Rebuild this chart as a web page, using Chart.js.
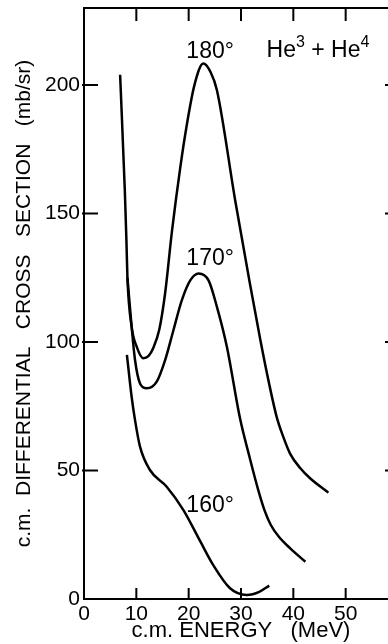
<!DOCTYPE html>
<html>
<head>
<meta charset="utf-8">
<script src="https://cdn.jsdelivr.net/npm/chart.js@4/dist/chart.umd.min.js"></script>
<style>
  html, body { margin: 0; padding: 0; background: #fff; overflow: hidden; }
  #wrap { width: 400px; height: 644px; }
</style>
</head>
<body>
<div id="wrap"><canvas id="myChart" width="400" height="644"></canvas></div>
<script>
// energy (MeV) and cross section (mb/sr)
const energy180 = [6.9, 7.8, 8.1, 8.3, 9.1, 10.1, 11.3, 12.3, 13.3, 14.4, 15.5, 16.8, 18.4, 19.6, 21.1, 22.8, 24.2, 25.4, 28.9, 31.7, 33.7, 35.3, 36.8, 38.1, 39.4, 41.3, 43.2, 46.7];
const sigma180  = [204, 159, 140, 125, 106, 98, 93.7, 94.5, 98, 105, 119, 143, 168, 184, 200, 208.4, 205, 198, 155, 122.8, 100.8, 84.5, 71, 63, 56.5, 51, 47, 41.4];

const energy170 = [8.3, 9.1, 9.75, 10.7, 12.0, 13.9, 15.5, 17.1, 18.7, 20.3, 21.9, 23.8, 25.4, 27.3, 29.8, 31.7, 33.3, 34.5, 35.7, 37.2, 39.4, 42.3];
const sigma170  = [125, 106, 93, 83.9, 82, 84.6, 93, 104.7, 116.3, 124, 126.7, 124, 113.7, 98.2, 70.4, 54.7, 42.4, 34.5, 28.8, 24.3, 19.7, 14.5];

const energy160 = [8.2, 9.1, 9.75, 10.7, 12.6, 15.8, 19.0, 22.2, 24.7, 27.9, 31.1, 33.5, 35.4];
const sigma160  = [95, 78.7, 69.6, 59.3, 50.2, 43.7, 34.6, 22.5, 13.2, 4.2, 1.6, 2.8, 5.2];

const curveNames = ['180°', '170°', '160°'];
const xTickValues = [10, 20, 30, 40, 50];
const yTickValues = [50, 100, 150, 200];

// where the text labels sit, in data units
const labelSpots = [
  { text: '180°', x: 24.1, y: 213 },
  { text: '170°', x: 24.1, y: 132.5 },
  { text: '160°', x: 24.1, y: 36.5 },
  { text: 'He³ + He⁴', x: 44.7, y: 213.5 }
];

const toPoints = (xs, ys) => xs.map((x, i) => ({ x: x, y: ys[i] }));

const FONT = '"Liberation Sans", Arial, sans-serif';
const SUP = { '³': '3', '⁴': '4' };

// draws text, turning ³ / ⁴ into raised small digits
function drawRich(ctx, text, cx, cy) {
  const parts = [];
  let buf = '';
  for (const ch of text) {
    if (SUP[ch]) { if (buf) parts.push({ t: buf }); parts.push({ t: SUP[ch], sup: true }); buf = ''; }
    else buf += ch;
  }
  if (buf) parts.push({ t: buf });
  const big = '23px ' + FONT, small = '16px ' + FONT;
  let w = 0;
  parts.forEach(p => { ctx.font = p.sup ? small : big; p.w = ctx.measureText(p.t).width; w += p.w; });
  let x = cx - w / 2;
  ctx.textAlign = 'left';
  parts.forEach(p => {
    ctx.font = p.sup ? small : big;
    ctx.fillText(p.t, x, p.sup ? cy - 8 : cy);
    x += p.w;
  });
}

// frame, inward ticks and curve labels
const frameAndLabels = {
  id: 'frameAndLabels',
  afterDraw(chart) {
    const { ctx, chartArea: a, scales: { x, y } } = chart;
    ctx.save();
    ctx.strokeStyle = '#000';
    ctx.lineWidth = 2;
    ctx.strokeRect(a.left, a.top, a.right - a.left, a.bottom - a.top);
    ctx.beginPath();
    xTickValues.forEach(v => {
      const px = x.getPixelForValue(v);
      ctx.moveTo(px, a.bottom); ctx.lineTo(px, a.bottom - 11);
      ctx.moveTo(px, a.top); ctx.lineTo(px, a.top + 13);
    });
    yTickValues.forEach(v => {
      const py = y.getPixelForValue(v);
      ctx.moveTo(a.left - 2, py); ctx.lineTo(a.left + 14, py);
      ctx.moveTo(a.right, py); ctx.lineTo(a.right - 13, py);
    });
    ctx.stroke();

    ctx.fillStyle = '#000';
    ctx.textBaseline = 'middle';
    labelSpots.forEach(l => {
      drawRich(ctx, l.text, x.getPixelForValue(l.x), y.getPixelForValue(l.y));
    });
    ctx.restore();
  }
};

const ctx = document.getElementById('myChart').getContext('2d');

const series = [
  toPoints(energy180, sigma180),
  toPoints(energy170, sigma170),
  toPoints(energy160, sigma160)
];

new Chart(ctx, {
  type: 'line',
  data: {
    datasets: series.map((pts, i) => ({
      label: curveNames[i],
      data: pts,
      borderColor: '#000',
      borderWidth: 2.5,
      pointRadius: 0,
      fill: false,
      cubicInterpolationMode: 'monotone'
    }))
  },
  options: {
    responsive: false,
    animation: false,
    layout: { padding: { top: 8, right: 2, left: 0, bottom: 0 } },
    plugins: { legend: { display: false }, tooltip: { enabled: false } },
    scales: {
      x: {
        type: 'linear',
        min: 0,
        max: 60,
        afterFit: scale => { scale.height = 45; scale.paddingLeft = 0; scale.paddingRight = 0; },
        grid: { display: false, drawTicks: false },
        border: { display: false },
        ticks: {
          stepSize: 10,
          padding: 3,
          color: '#000',
          font: { family: FONT, size: 21 },
          callback: v => (v % 10 === 0 && v < 60 ? v : '')
        },
        title: {
          display: true,
          text: 'c.m. ENERGY   (MeV)',
          color: '#000',
          font: { family: FONT, size: 22 },
          padding: { top: 0, bottom: 0 }
        }
      },
      y: {
        min: 0,
        max: 230,
        afterFit: scale => { scale.width = 84; scale.paddingTop = 0; scale.paddingBottom = 0; },
        grid: { display: false, drawTicks: false },
        border: { display: false },
        ticks: {
          stepSize: 50,
          padding: 4,
          color: '#000',
          font: { family: FONT, size: 21 },
          callback: v => (v % 50 === 0 ? v : '')
        },
        title: {
          display: true,
          text: 'c.m.  DIFFERENTIAL   CROSS   SECTION   (mb/sr)',
          color: '#000',
          font: { family: FONT, size: 21 },
          padding: { top: 12, bottom: 0 }
        }
      }
    }
  },
  plugins: [frameAndLabels]
});
</script>
</body>
</html>
